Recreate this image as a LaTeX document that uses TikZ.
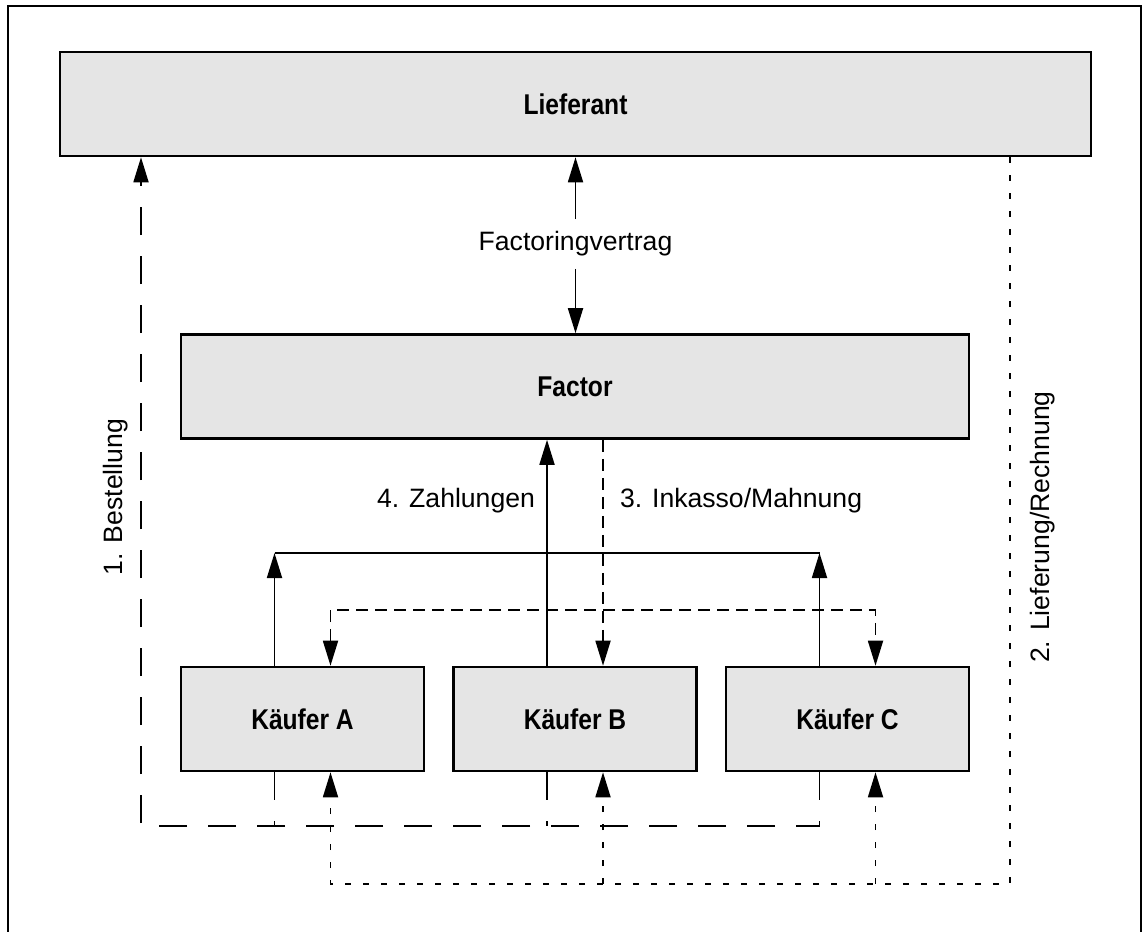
\documentclass[tikz,border=0pt]{standalone}
\usepackage{fontspec}
\setmainfont{Liberation Sans}[BoldFeatures={FakeStretch=0.86}]
\usetikzlibrary{arrows.meta}

\begin{document}
\begin{tikzpicture}[x=0.5pt,y=-0.5pt,
    every node/.style={font=\fontsize{13.3}{16}\selectfont},
    party/.style={draw,line width=1.3pt,fill=gray!20,minimum height=52pt,
      font=\fontsize{14.3}{17}\selectfont\bfseries},
    flow/.style={line width=0.9pt},
    tip/.style={-{Triangle[length=12.5pt,width=7.5pt]}},
    tips/.style={{Triangle[length=12.5pt,width=7.5pt]}-{Triangle[length=12.5pt,width=7.5pt]}},
    order/.style={flow,dash pattern=on 14pt off 10.5pt},
    dun/.style={flow,dash pattern=on 6pt off 3.5pt},
    ship/.style={flow,dash pattern=on 3pt off 6pt}]
  \useasboundingbox (0,0) rectangle (1143,931);
  % outer frame, open at the bottom
  \draw[line width=1.2pt] (8,940) -- (8,6) -- (1141,6) -- (1141,940);

  % ---------------- Parties ----------------
  \node[party,minimum width=515.5pt] (lief) at (575.5,104) {Lieferant};
  \node[party,minimum width=394pt] (factor) at (575,386.5) {Factor};
  \foreach \k/\x/\n in {ka/302.5/A, kb/575/B, kc/847.5/C}{
    \node[party,minimum width=121.5pt] (\k) at (\x,719) {Käufer \n};
    \coordinate (\k-nl) at ([xshift=-14pt]\k.north);
    \coordinate (\k-nr) at ([xshift=14pt]\k.north);
    \coordinate (\k-sl) at ([xshift=-14pt]\k.south);
    \coordinate (\k-sr) at ([xshift=14pt]\k.south);
  }

  % ---------------- Factoringvertrag ----------------
  \node[inner ysep=6pt] (fv) at (575.5,244) {Factoringvertrag};
  \draw[flow,tip] (fv) -- (fv |- lief.south);
  \draw[flow,tip] (fv) -- (fv |- factor.north);

  % ---------------- 4. Zahlungen ----------------
  \coordinate (zbus) at (0,553);
  \draw[flow,tip] (kb-nl) -- (kb-nl |- factor.south);
  \draw[flow,tip] (ka-nl) -- (ka-nl |- zbus);
  \draw[flow,tip] (kc-nl) -- (kc-nl |- zbus);
  \draw[flow] (ka-nl |- zbus) -- (kc-nl |- zbus);
  \node[anchor=east] (zahl) at (542,501) {4. Zahlungen};

  % ---------------- 3. Inkasso/Mahnung ----------------
  \coordinate (ibus) at (0,610);
  \draw[dun,tip] (kb-nr |- factor.south) -- (kb-nr);
  \draw[dun,tips] (ka-nr) |- (kc-nr |- ibus) -- (kc-nr);
  \node[anchor=west] (inkasso) at (613,501) {3. Inkasso/Mahnung};

  % ---------------- 1. Bestellung ----------------
  \coordinate (bbus) at (141,826);
  \draw[order,tip] (kc-sl) |- (bbus) -- (bbus |- lief.south);
  \draw[order] (ka-sl) -- (ka-sl |- bbus);
  \draw[order] (kb-sl) -- (kb-sl |- bbus);
  \node[rotate=90] (best) at (116,497) {1. Bestellung};

  % ---------------- 2. Lieferung/Rechnung ----------------
  \coordinate (lbus) at (1010,884);
  \draw[ship,tip] (lbus |- lief.south) |- (ka-sr |- lbus) -- (ka-sr);
  \draw[ship,tip] (kb-sr |- lbus) -- (kb-sr);
  \draw[ship,tip] (kc-sr |- lbus) -- (kc-sr);
  \node[rotate=90] (liefer) at (1043,527) {2. Lieferung/Rechnung};
\end{tikzpicture}
\end{document}
